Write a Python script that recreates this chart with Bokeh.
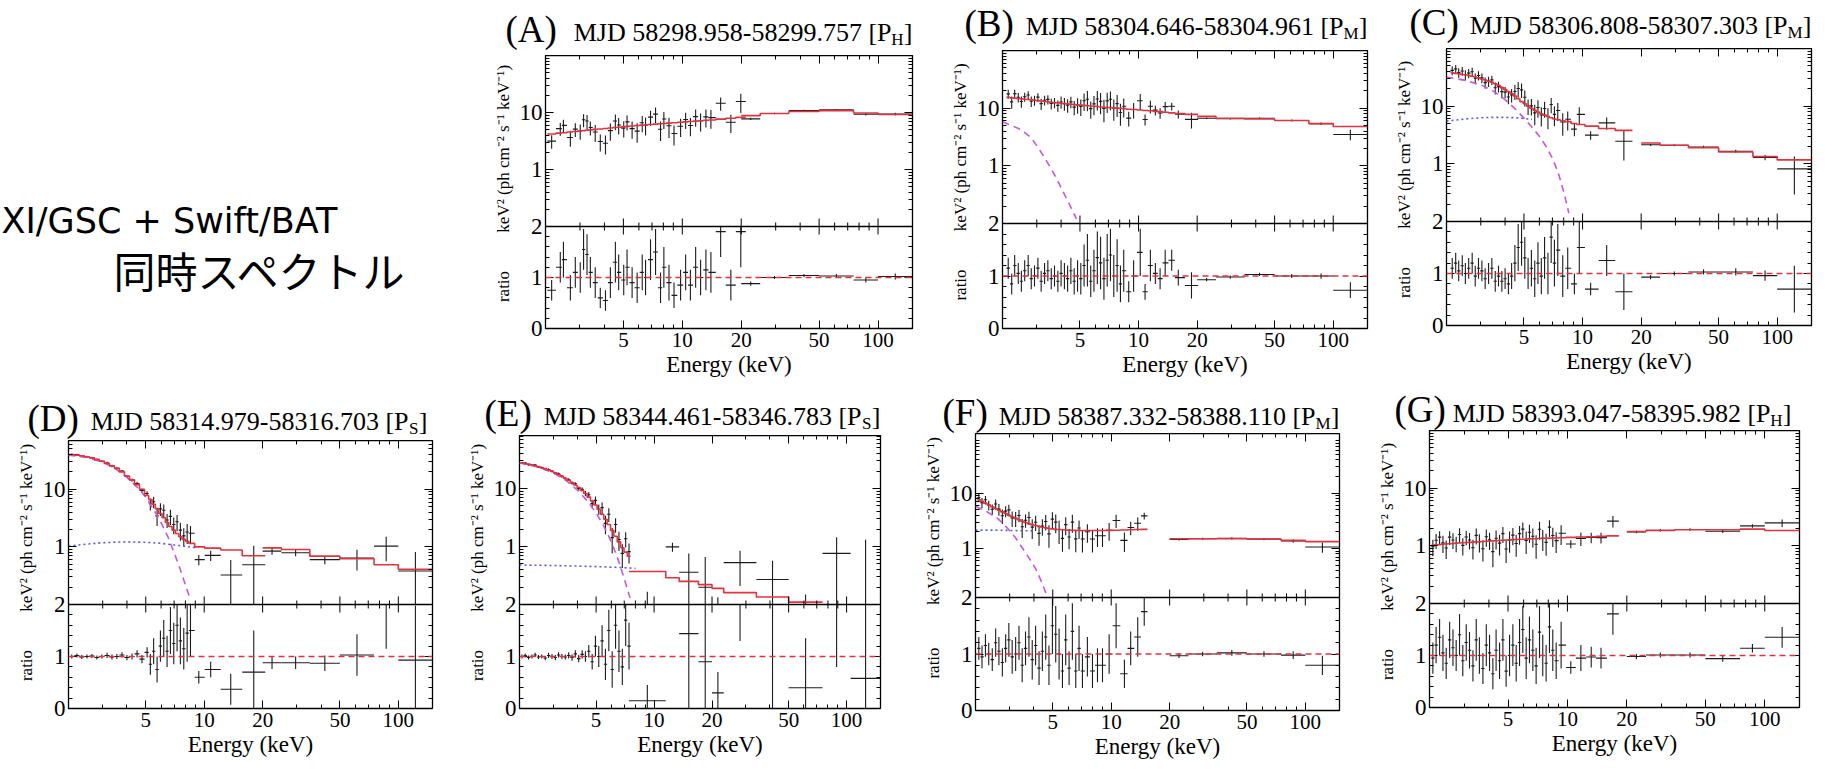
import math
from bokeh.plotting import figure
from bokeh.layouts import row, column
from bokeh.models import (Range1d, FixedTicker, BasicTickFormatter, CustomJSTickFormatter,
                          LogAxis, Label, Span, Title, LinearScale)
from bokeh.embed import file_html
from bokeh.resources import INLINE

SERIF = "Liberation Serif, Times New Roman, serif"
RED = "#e2323f"
MAG = "#c65ad6"
BLUE = "#5a5ae8"
INK = "#1c1c1c"

X_MIN, X_MAX = 2.0, 150.0
X_TICKS = [5, 10, 20, 50, 100]
X_MINOR = [2, 3, 4, 6, 7, 8, 9, 30, 40, 60, 70, 80, 90]
Y_TICKS = [1, 10]
Y_MINOR = [0.2, 0.3, 0.4, 0.5, 0.6, 0.7, 0.8, 0.9, 2, 3, 4, 5, 6, 7, 8, 9,
           20, 30, 40, 50, 60, 70, 80, 90]
R_TICKS = [0, 1, 2]
R_MINOR = [0.2, 0.4, 0.6, 0.8, 1.2, 1.4, 1.6, 1.8]

# Swift/BAT energy bins (keV)
BAT_LO = [20, 25, 35, 50, 75, 100]
BAT_HI = [25, 35, 50, 75, 100, 150]

# ---------------- (A) ----------------
A_e = [2.15, 2.38, 2.47, 2.68, 2.84, 3.01, 3.13, 3.26, 3.39, 3.59, 3.81, 4.05, 4.29, 4.55, 4.73,
       5.02, 5.22, 5.54, 5.88, 6.24, 6.49, 6.88, 7.30, 7.74, 8.05, 8.55, 9.07, 9.80, 10.4, 11.0,
       11.7, 12.4, 13.2, 14.0, 15.7, 17.7, 19.9]
A_m = [4.2, 4.35, 4.4, 4.55, 4.65, 4.75, 4.8, 4.9, 4.95, 5.05, 5.15, 5.25, 5.35, 5.45, 5.5,
       5.6, 5.7, 5.8, 5.9, 6.0, 6.05, 6.15, 6.25, 6.35, 6.4, 6.5, 6.6, 6.75, 6.85, 6.95,
       7.05, 7.15, 7.3, 7.4, 7.65, 7.95, 8.2]
A_r = [0.75, 1.2, 1.35, 0.8, 1.1, 1.0, 1.55, 1.45, 1.1, 0.9, 0.6, 0.55, 0.9, 1.3, 1.1,
       0.95, 1.2, 0.9, 0.8, 1.1, 1.0, 1.35, 1.5, 0.8, 1.2, 0.9, 0.65, 0.85, 1.1, 0.85,
       1.2, 1.0, 1.15, 1.1, 1.9, 0.85, 1.9]
A_dr = [0.2, 0.3, 0.35, 0.25, 0.3, 0.3, 0.4, 0.4, 0.3, 0.3, 0.2, 0.2, 0.3, 0.4, 0.35,
        0.3, 0.35, 0.3, 0.3, 0.35, 0.35, 0.4, 0.45, 0.3, 0.4, 0.35, 0.25, 0.3, 0.35, 0.3,
        0.4, 0.35, 0.4, 0.4, 0.5, 0.3, 0.7]
A_bm = [8.8, 9.6, 10.4, 10.8, 9.8, 9.2]
A_br = [0.88, 1.0, 1.04, 1.03, 0.95, 1.02]
A_bdr = [0.04, 0.03, 0.03, 0.04, 0.05, 0.06]

# ---------------- (B) ----------------
B_e = [2.14, 2.23, 2.31, 2.41, 2.50, 2.60, 2.71, 2.81, 2.92, 3.04, 3.16, 3.29, 3.42, 3.56, 3.70,
       3.85, 4.00, 4.16, 4.32, 4.49, 4.67, 4.86, 5.05, 5.25, 5.46, 5.68, 5.90, 6.14, 6.38, 6.64,
       6.90, 7.17, 7.46, 7.76, 8.07, 8.39, 8.90, 9.43, 10.2, 10.8, 11.5, 12.2, 12.9, 13.7, 14.8,
       16.0, 18.7]
B_m = [15.4, 15.1, 14.9, 14.7, 14.5, 14.3, 14.1, 13.9, 13.7, 13.5, 13.3, 13.1, 12.9, 12.7, 12.5,
       12.4, 12.2, 12.0, 11.9, 11.7, 11.6, 11.4, 11.3, 11.2, 11.0, 10.9, 10.8, 10.7, 10.5, 10.4,
       10.3, 10.2, 10.1, 10.0, 9.9, 9.8, 9.6, 9.5, 9.3, 9.1, 9.0, 8.8, 8.7, 8.5, 8.3,
       8.1, 7.8]
B_r = [1.15, 0.85, 1.2, 1.05, 0.9, 1.1, 1.2, 0.95, 1.0, 1.15, 0.9, 1.05, 1.1, 0.95, 1.0,
       0.9, 1.05, 1.0, 0.95, 1.1, 0.9, 1.0, 0.95, 1.2, 1.3, 0.9, 1.1, 1.35, 1.25, 0.95,
       1.3, 1.4, 1.0, 1.2, 0.85, 1.1, 0.7, 1.0, 1.45, 0.7, 1.2, 1.05, 0.95, 1.25, 1.3,
       0.97, 0.82]
B_dr = [0.2, 0.2, 0.2, 0.2, 0.2, 0.2, 0.2, 0.2, 0.2, 0.2, 0.2, 0.2, 0.2, 0.2, 0.2,
        0.2, 0.25, 0.25, 0.25, 0.25, 0.25, 0.3, 0.3, 0.4, 0.5, 0.3, 0.4, 0.5, 0.5, 0.4,
        0.5, 0.5, 0.4, 0.5, 0.35, 0.4, 0.2, 0.3, 0.45, 0.15, 0.3, 0.2, 0.2, 0.25, 0.2,
        0.15, 0.25]
B_bm = [7.2, 6.7, 6.5, 6.1, 5.4, 4.8]
B_br = [0.93, 0.98, 1.03, 1.0, 1.0, 0.73]
B_bdr = [0.03, 0.03, 0.03, 0.04, 0.05, 0.15]
B_dbb_e = [2.0, 2.2, 2.5, 2.8, 3.1, 3.4, 3.7, 4.0, 4.4, 4.8, 5.0]
B_dbb_f = [5.8, 5.1, 4.2, 3.1, 1.9, 1.15, 0.7, 0.42, 0.22, 0.12, 0.09]

# ---------------- (C) ----------------
C_e = [2.14, 2.23, 2.31, 2.41, 2.50, 2.60, 2.71, 2.81, 2.92, 3.04, 3.16, 3.29, 3.42, 3.56, 3.70,
       3.85, 4.00, 4.16, 4.32, 4.49, 4.67, 4.86, 5.05, 5.25, 5.46, 5.68, 5.90, 6.14, 6.38, 6.64,
       6.90, 7.17, 7.46, 7.91, 8.39, 9.08, 9.62, 11.0, 13.3, 16.3]
C_m = [38, 37, 36.5, 35.5, 35, 34, 33, 32, 31, 29.5, 28.5, 27, 26, 24.5, 23,
       21, 19.5, 18, 16.5, 15, 13.5, 12, 11, 10, 9.2, 8.5, 7.9, 7.4, 7.0, 6.6,
       6.3, 6.0, 5.8, 5.6, 5.4, 5.0, 4.8, 4.5, 4.1, 3.8]
C_r = [1.1, 1.2, 1.05, 1.15, 1.0, 1.1, 1.2, 0.95, 1.1, 1.05, 0.9, 1.0, 1.1, 0.85, 0.95,
       0.85, 0.9, 0.8, 0.95, 1.2, 1.5, 1.6, 1.3, 1.0, 1.1, 0.9, 1.2, 0.95, 1.3, 1.0,
       1.7, 1.2, 1.45, 0.95, 1.1, 0.8, 1.5, 0.7, 1.25, 0.65]
C_dr = [0.2, 0.2, 0.2, 0.2, 0.2, 0.2, 0.2, 0.2, 0.2, 0.2, 0.2, 0.2, 0.2, 0.2, 0.2,
        0.2, 0.2, 0.2, 0.25, 0.35, 0.45, 0.45, 0.4, 0.3, 0.35, 0.35, 0.4, 0.35, 0.4, 0.4,
        0.5, 0.45, 0.5, 0.4, 0.4, 0.2, 0.5, 0.12, 0.3, 0.35]
C_bm = [2.3, 2.1, 1.9, 1.6, 1.34, 1.17]
C_br = [0.93, 1.0, 1.03, 1.03, 0.96, 0.7]
C_bdr = [0.04, 0.04, 0.05, 0.07, 0.1, 0.45]
C_dbb_e = [2.0, 2.5, 3.0, 3.5, 4.0, 4.5, 5.0, 5.5, 6.0, 6.5, 7.0, 7.5, 8.0, 8.5, 8.8]
C_dbb_f = [32, 28, 23.5, 18, 13, 9, 6.2, 4.3, 3.0, 2.0, 1.25, 0.7, 0.33, 0.14, 0.09]
C_pl_e = [2.0, 2.5, 3.0, 3.5, 4.0, 4.5, 5.0, 5.5]
C_pl_f = [5.5, 6.0, 6.3, 6.4, 6.4, 6.3, 6.1, 5.9]

# ---------------- (D) ----------------
D_e = [2.08, 2.21, 2.34, 2.49, 2.64, 2.80, 2.97, 3.16, 3.35, 3.55, 3.77, 4.00, 4.25, 4.51, 4.78,
       5.08, 5.28, 5.49, 5.72, 5.95, 6.19, 6.44, 6.70, 6.97, 7.25, 7.54, 7.85, 8.17, 8.50,
       9.38, 10.8, 13.7, 18.0]
D_m = [40, 39, 38, 36.5, 35, 33, 30.5, 28, 25.5, 23, 20, 17, 14.5, 12, 10,
       7.8, 6.6, 5.5, 4.6, 3.8, 3.2, 2.65, 2.25, 1.95, 1.7, 1.5, 1.35, 1.25, 1.15,
       1.0, 0.95, 0.88, 0.7]
D_r = [1.0, 1.02, 0.99, 1.0, 1.01, 0.98, 1.0, 1.02, 0.99, 1.0, 1.03, 0.98, 1.0, 1.05, 0.95,
       1.08, 0.85, 1.1, 0.75, 1.2, 1.35, 1.1, 1.5, 1.25, 1.6, 1.3, 1.15, 1.45, 1.5,
       0.6, 0.75, 0.37, 0.7]
D_dr = [0.04, 0.04, 0.04, 0.04, 0.04, 0.04, 0.04, 0.05, 0.05, 0.05, 0.05, 0.05, 0.06, 0.07, 0.08,
        0.1, 0.2, 0.25, 0.25, 0.3, 0.35, 0.3, 0.45, 0.4, 0.5, 0.45, 0.4, 0.55, 0.5,
        0.12, 0.15, 0.3, 0.8]
D_bm = [0.96, 0.9, 0.69, 0.62, 0.49, 0.41]
D_br = [0.88, 0.88, 0.87, 1.03, 2.1, 0.93]
D_bdr = [0.12, 0.12, 0.15, 0.4, 0.95, 1.05]
D_dbb_e = [2.0, 2.5, 3.0, 3.5, 4.0, 4.5, 5.0, 5.5, 6.0, 6.5, 7.0, 7.5, 8.0, 8.5, 9.0]
D_dbb_f = [39, 35.5, 29.5, 22.5, 16, 11, 7.3, 4.4, 2.6, 1.5, 0.8, 0.42, 0.22, 0.12, 0.07]
D_pl_e = [2.0, 2.5, 3.0, 3.5, 4.0, 5.0, 6.0, 7.0, 8.0, 9.0]
D_pl_f = [1.03, 1.12, 1.18, 1.21, 1.22, 1.2, 1.15, 1.08, 1.02, 0.97]

# ---------------- (E) ----------------
E_e = [2.06, 2.14, 2.23, 2.32, 2.41, 2.51, 2.61, 2.72, 2.83, 2.95, 3.07, 3.19, 3.32, 3.46, 3.60,
       3.75, 3.90, 4.06, 4.23, 4.40, 4.58, 4.77, 4.96, 5.16, 5.37, 5.59, 5.82, 6.06, 6.31, 6.57,
       6.84, 7.12, 7.41]
E_m = [27.5, 27.0, 26.3, 25.5, 24.7, 23.8, 22.9, 22.0, 20.9, 19.8, 18.6, 17.4, 16.2, 15.0, 13.9,
       12.7, 11.5, 10.4, 9.3, 8.2, 7.1, 6.1, 5.2, 4.4, 3.6, 2.95, 2.4, 1.9, 1.5, 1.2,
       0.95, 0.8, 0.68]
E_r = [1.0, 1.02, 0.98, 1.0, 1.03, 0.99, 1.0, 0.97, 1.02, 1.0, 0.98, 1.03, 1.0, 0.99, 1.02,
       0.98, 1.05, 0.96, 1.04, 1.0, 1.1, 0.9, 1.2, 1.0, 1.3, 0.85, 1.5, 0.75, 1.6, 1.1,
       0.8, 1.7, 1.2]
E_dr = [0.04, 0.04, 0.04, 0.04, 0.04, 0.04, 0.04, 0.04, 0.05, 0.05, 0.05, 0.05, 0.05, 0.05, 0.06,
        0.06, 0.07, 0.07, 0.08, 0.1, 0.12, 0.15, 0.2, 0.2, 0.3, 0.3, 0.4, 0.35, 0.45, 0.4,
        0.35, 0.5, 0.45]
E_blo = [7.4, 11.5, 13.5, 17, 20, 23, 34, 50, 75, 105]
E_bhi = [11.5, 13.5, 17, 20, 23, 34, 50, 75, 105, 150]
E_bm = [0.37, 0.29, 0.25, 0.22, 0.19, 0.16, 0.135, 0.11, 0.095, 0.08]
E_br = [0.15, 3.4, 1.44, 0.9, 0.3, 3.3, 2.0, 0.4, 8.0, 0.58]
E_bdr = [0.3, 0.6, 1.6, 2.1, 0.4, 2.0, 2.2, 0.95, 7.2, 15.7]
E_dbb_e = [2.0, 2.5, 3.0, 3.5, 4.0, 4.5, 5.0, 5.5, 6.0, 6.5, 7.0, 7.5, 7.8]
E_dbb_f = [27.5, 23.5, 18.6, 13.7, 9.4, 6.1, 3.8, 2.2, 1.2, 0.6, 0.28, 0.13, 0.09]
E_pl_e = [2.0, 3.0, 4.0, 5.0, 6.0, 7.0, 8.0]
E_pl_f = [0.48, 0.47, 0.46, 0.45, 0.44, 0.43, 0.42]

# ---------------- (F) ----------------
F_e = [2.08, 2.16, 2.25, 2.34, 2.44, 2.54, 2.64, 2.75, 2.86, 2.97, 3.09, 3.22, 3.35, 3.48, 3.62,
       3.77, 3.92, 4.08, 4.25, 4.42, 4.60, 4.78, 4.98, 5.18, 5.39, 5.61, 5.83, 6.07, 6.31, 6.57,
       6.83, 7.11, 7.54, 8.01, 8.50, 9.02, 9.76, 10.6, 11.7, 12.6, 13.7, 14.8]
F_m = [7.6, 7.1, 6.6, 6.1, 5.7, 5.3, 4.9, 4.6, 4.3, 4.0, 3.75, 3.5, 3.3, 3.1, 2.95,
       2.8, 2.7, 2.6, 2.5, 2.42, 2.36, 2.3, 2.26, 2.22, 2.2, 2.18, 2.16, 2.15, 2.14, 2.13,
       2.13, 2.12, 2.12, 2.12, 2.12, 2.12, 2.13, 2.14, 2.16, 2.18, 2.2, 2.22]
F_r = [1.1, 0.95, 1.15, 1.0, 0.9, 1.2, 1.05, 0.85, 1.1, 1.25, 0.95, 1.0, 1.2, 0.8, 1.1,
       1.3, 0.9, 1.15, 0.75, 1.05, 1.3, 0.8, 1.5, 1.35, 1.0, 0.7, 1.25, 0.75, 1.4, 0.7,
       1.1, 0.7, 0.95, 0.7, 0.8, 0.8, 1.0, 1.5, 0.65, 1.1, 1.3, 1.75]
F_dr = [0.2, 0.2, 0.2, 0.2, 0.2, 0.25, 0.25, 0.25, 0.25, 0.3, 0.3, 0.3, 0.3, 0.3, 0.3,
        0.35, 0.35, 0.35, 0.3, 0.35, 0.4, 0.35, 0.5, 0.5, 0.45, 0.3, 0.45, 0.3, 0.5, 0.3,
        0.4, 0.3, 0.35, 0.3, 0.3, 0.3, 0.35, 0.4, 0.25, 0.3, 0.35, 0.25]
F_bm = [1.5, 1.5, 1.5, 1.48, 1.4, 1.33]
F_br = [0.97, 1.0, 1.02, 1.0, 0.98, 0.8]
F_bdr = [0.04, 0.04, 0.05, 0.05, 0.07, 0.17]
F_dbb_e = [2.0, 2.3, 2.6, 2.9, 3.2, 3.5, 3.8, 4.1, 4.4, 4.7, 4.9]
F_dbb_f = [5.8, 4.6, 3.5, 2.4, 1.6, 1.0, 0.65, 0.42, 0.24, 0.13, 0.1]
F_pl_e = [2.0, 2.5, 3.0, 3.5, 4.0]
F_pl_f = [2.15, 2.15, 2.12, 2.1, 2.08]

# ---------------- (G) ----------------
G_e = [2.08, 2.16, 2.25, 2.34, 2.43, 2.53, 2.63, 2.73, 2.84, 2.95, 3.07, 3.19, 3.32, 3.45, 3.58,
       3.73, 3.88, 4.03, 4.19, 4.35, 4.53, 4.71, 4.89, 5.09, 5.29, 5.50, 5.72, 5.94, 6.18, 6.42,
       6.68, 6.94, 7.22, 7.50, 7.80, 8.11, 8.43, 8.77, 9.29, 10.4, 11.7, 13.2, 14.8, 17.0]
G_m = [1.02, 1.04, 1.05, 1.07, 1.08, 1.09, 1.1, 1.11, 1.12, 1.13, 1.14, 1.15, 1.16, 1.17, 1.18,
       1.19, 1.2, 1.21, 1.22, 1.23, 1.24, 1.25, 1.26, 1.27, 1.28, 1.29, 1.3, 1.3, 1.31, 1.32,
       1.33, 1.33, 1.34, 1.35, 1.35, 1.36, 1.37, 1.37, 1.38, 1.4, 1.42, 1.44, 1.46, 1.49]
G_r = [0.95, 1.2, 1.35, 1.05, 0.85, 1.3, 1.15, 1.0, 1.4, 0.9, 1.25, 1.1, 0.8, 1.3, 1.0,
       0.75, 1.2, 1.05, 0.65, 1.1, 0.9, 1.3, 0.7, 1.0, 1.2, 0.85, 1.25, 1.5, 0.95, 1.3,
       1.1, 0.8, 1.45, 1.0, 0.85, 1.55, 1.1, 0.9, 1.2, 0.77, 0.95, 0.97, 0.95, 1.8]
G_dr = [0.3, 0.35, 0.35, 0.35, 0.3, 0.35, 0.35, 0.3, 0.4, 0.3, 0.35, 0.35, 0.3, 0.4, 0.35,
        0.3, 0.4, 0.35, 0.3, 0.4, 0.35, 0.4, 0.3, 0.4, 0.4, 0.35, 0.45, 0.45, 0.4, 0.45,
        0.4, 0.35, 0.5, 0.4, 0.35, 0.5, 0.4, 0.35, 0.45, 0.12, 0.25, 0.2, 0.2, 0.4]
G_bm = [1.77, 1.84, 1.9, 1.9, 1.95, 1.85]
G_br = [0.98, 1.01, 1.01, 0.94, 1.14, 1.35]
G_bdr = [0.05, 0.05, 0.05, 0.06, 0.08, 0.2]

TITLES = {
    "A": ("MJD 58298.958-58299.757 [P", "H"),
    "B": ("MJD 58304.646-58304.961 [P", "M"),
    "C": ("MJD 58306.808-58307.303 [P", "M"),
    "D": ("MJD 58314.979-58316.703 [P", "S"),
    "E": ("MJD 58344.461-58346.783 [P", "S"),
    "F": ("MJD 58387.332-58388.110 [P", "M"),
    "G": ("MJD 58393.047-58395.982 [P", "H"),
}
SUBW = {"H": 12, "M": 15, "S": 10}
Y_LABEL = "keV\u00b2 (ph cm\u207b\u00b2 s\u207b\u00b9 keV\u207b\u00b9)"
R_LABEL = "ratio"

ROW1_H = 388
PANELS = [
    dict(letter="A", e=A_e, m=A_m, r=A_r, dr=A_dr, blo=BAT_LO, bhi=BAT_HI, bm=A_bm, br=A_br, bdr=A_bdr,
         dbb=None, pl=None, ylim=(0.1, 100),
         L=75, FW=367, R=15, tb=55, th=171, bh=102, bb=60, gap=14, po=40, rt=0),
    dict(letter="B", e=B_e, m=B_m, r=B_r, dr=B_dr, blo=BAT_LO, bhi=BAT_HI, bm=B_bm, br=B_br, bdr=B_bdr,
         dbb=(B_dbb_e, B_dbb_f), pl=None, ylim=(0.1, 100),
         L=75, FW=365, R=4, tb=50, th=173, bh=105, bb=60, gap=15, po=38, rt=0),
    dict(letter="C", e=C_e, m=C_m, r=C_r, dr=C_dr, blo=BAT_LO, bhi=BAT_HI, bm=C_bm, br=C_br, bdr=C_bdr,
         dbb=(C_dbb_e, C_dbb_f), pl=(C_pl_e, C_pl_f), ylim=(0.1, 100),
         L=75, FW=365, R=20, tb=48, th=173, bh=104, bb=63, gap=14, po=37, rt=0),
    dict(letter="D", e=D_e, m=D_m, r=D_r, dr=D_dr, blo=BAT_LO, bhi=BAT_HI, bm=D_bm, br=D_br, bdr=D_bdr,
         dbb=(D_dbb_e, D_dbb_f), pl=(D_pl_e, D_pl_f), ylim=(0.1, 70),
         L=68, FW=364, R=19, tb=52, th=164, bh=104, bb=61, gap=10, po=41, rt=5),
    dict(letter="E", e=E_e, m=E_m, r=E_r, dr=E_dr, blo=E_blo, bhi=E_bhi, bm=E_bm, br=E_br, bdr=E_bdr,
         dbb=(E_dbb_e, E_dbb_f), pl=(E_pl_e, E_pl_f), ylim=(0.1, 82),
         L=68, FW=361, R=27, tb=47, th=169, bh=104, bb=61, gap=10, po=35, rt=0),
    dict(letter="F", e=F_e, m=F_m, r=F_r, dr=F_dr, blo=BAT_LO, bhi=BAT_HI, bm=F_bm, br=F_br, bdr=F_bdr,
         dbb=(F_dbb_e, F_dbb_f), pl=(F_pl_e, F_pl_f), ylim=(0.13, 120),
         L=68, FW=364, R=22, tb=45, th=164, bh=113, bb=59, gap=8.5, po=33, rt=0),
    dict(letter="G", e=G_e, m=G_m, r=G_r, dr=G_dr, blo=BAT_LO, bhi=BAT_HI, bm=G_bm, br=G_br, bdr=G_bdr,
         dbb=None, pl=None, ylim=(0.1, 100),
         L=68, FW=370, R=32, tb=42, th=173, bh=104, bb=62, gap=8.5, po=35, rt=8),
]

NAN = float("nan")


def style_axis(ax, labels=False, tick_size="23px", tick_standoff=3):
    ax.axis_line_color = None
    ax.major_tick_in = 8
    ax.major_tick_out = 0
    ax.minor_tick_in = 4
    ax.minor_tick_out = 0
    ax.major_tick_line_color = "black"
    ax.minor_tick_line_color = "black"
    if labels:
        ax.major_label_text_font = SERIF
        ax.major_label_text_font_size = tick_size
        ax.major_label_text_color = "black"
        ax.major_label_standoff = tick_standoff
    else:
        ax.major_label_text_font_size = "0px"
        ax.major_label_text_color = None
        ax.major_label_text_alpha = 0
        ax.major_label_standoff = 0


def step_xy(lo, hi, vals, floor):
    xs, ys = [], []
    for a, b, v in zip(lo, hi, vals):
        xs += [a, b]
        ys += [v, v] if v >= floor else [NAN, NAN]
    return xs, ys


def text_canvas(w, h):
    f = figure(width=w, height=h, x_range=Range1d(0, w), y_range=Range1d(h, 0), title=None,
               output_backend="svg", toolbar_location=None, min_border=0, frame_align=False,
               x_axis_location=None, y_axis_location=None, outline_line_color=None)
    f.grid.visible = False
    return f


def build(P):
    L, FW, R = P["L"], P["FW"], P["R"]
    W = L + FW + R
    th, bh, bb = P["th"], P["bh"], P["bb"]
    ylo, yhi = P["ylim"]
    ppd = th / math.log10(yhi / ylo)            # pixels per decade in the spectrum part
    yb = ylo / 10 ** (bh / ppd)                 # log-range value at the bottom of the ratio part
    rtop = 2.0 * (th + bh) / bh                 # ratio-range value at the top of the frame
    kk = 2.0 / math.log10(ylo / yb)

    def r2y(v):
        return yb * 10 ** (v / kk)

    p = figure(width=W, height=th + bh + bb, x_axis_type="log", y_axis_type="log",
               x_range=Range1d(X_MIN, X_MAX), y_range=Range1d(yb, yhi),
               extra_y_ranges={"ratio": Range1d(0, rtop)},
               extra_y_scales={"ratio": LinearScale()},
               output_backend="svg", toolbar_location=None, title=None, frame_align=False,
               x_axis_location=None, y_axis_location=None,
               min_border_left=L, min_border_right=R, min_border_top=0, min_border_bottom=bb,
               outline_line_color="black", outline_line_width=1.3,
               background_fill_color="white", border_fill_color="white")
    p.grid.visible = False

    y_major = [v for v in Y_TICKS if ylo < v < yhi] + [r2y(v) for v in R_TICKS]
    y_minor = [v for v in Y_MINOR if ylo < v < yhi] + [r2y(v) for v in R_MINOR]
    fmt = CustomJSTickFormatter(args=dict(lo=ylo, yb=yb, k=kk), code="""
        if (tick > lo * 1.001) { return tick >= 1 ? tick.toFixed(0) : String(tick); }
        return String(Math.round(k * Math.log10(tick / yb)));
    """)
    left = LogAxis(ticker=FixedTicker(ticks=y_major, minor_ticks=y_minor), formatter=fmt)
    style_axis(left, labels=True)
    p.add_layout(left, "left")
    right = LogAxis(ticker=FixedTicker(ticks=y_major, minor_ticks=y_minor))
    style_axis(right)
    p.add_layout(right, "right")
    above = LogAxis(ticker=FixedTicker(ticks=X_TICKS, minor_ticks=X_MINOR))
    style_axis(above)
    p.add_layout(above, "above")
    below = LogAxis(ticker=FixedTicker(ticks=X_TICKS, minor_ticks=X_MINOR),
                    formatter=BasicTickFormatter())
    style_axis(below, labels=True, tick_size="21px", tick_standoff=4)
    below.axis_label = "Energy (keV)"
    below.axis_label_text_font = SERIF
    below.axis_label_text_font_size = "23px"
    below.axis_label_text_font_style = "normal"
    below.axis_label_text_color = "black"
    below.axis_label_standoff = 2
    p.add_layout(below, "below")

    # vertical axis title: "ratio" under the ratio part, the flux unit along the spectrum part
    fs = 17
    rl = 1.83 * fs
    off = bh / 2 - 9 - rl / 2
    gap = bh / 2 + 2 - rl / 2
    nsp = max(1, int(round(gap / (0.25 * fs))))
    p.add_layout(Title(text=R_LABEL + "\u00a0" * nsp + Y_LABEL, align="left", offset=off,
                       text_font=SERIF, text_font_size=f"{fs}px", text_font_style="normal",
                       text_color="black", standoff=8), "left")

    # bins
    e = P["e"]
    mids = [math.sqrt(a * b) for a, b in zip(e[:-1], e[1:])]
    lo = [e[0] * e[0] / mids[0]] + mids
    hi = mids + [e[-1] * e[-1] / mids[-1]]
    bc = [math.sqrt(a * b) for a, b in zip(P["blo"], P["bhi"])]
    xs = e + bc
    xlo = lo + list(P["blo"])
    xhi = hi + list(P["bhi"])
    mm = P["m"] + P["bm"]
    rr = P["r"] + P["br"]
    dd = P["dr"] + P["bdr"]
    ff = [a * b for a, b in zip(rr, mm)]
    df = [a * b for a, b in zip(dd, mm)]

    # spectrum part (kept above the divider)
    vx, v0, v1 = [], [], []
    for x, f, d in zip(xs, ff, df):
        a, b = max(f - d, ylo), min(f + d, yhi)
        if a < b:
            vx.append(x); v0.append(a); v1.append(b)
    hx0, hx1, hy = [], [], []
    for a, b, f in zip(xlo, xhi, ff):
        if ylo <= f <= yhi:
            hx0.append(a); hx1.append(b); hy.append(f)
    p.segment(x0=vx, y0=v0, x1=vx, y1=v1, line_color=INK, line_width=1.1)
    p.segment(x0=hx0, y0=hy, x1=hx1, y1=hy, line_color=INK, line_width=1.1)
    for comp, col, dash in ((P["dbb"], MAG, "7 5"), (P["pl"], BLUE, "2 3")):
        if comp:
            cy = [v if v >= ylo else NAN for v in comp[1]]
            p.line(comp[0], cy, line_color=col, line_width=1.6, line_dash=dash)
    sx, sy = step_xy(lo, hi, P["m"], ylo)
    p.line(sx, sy, line_color=RED, line_width=1.6)
    sx2, sy2 = step_xy(P["blo"], P["bhi"], P["bm"], ylo)
    p.line(sx2, sy2, line_color=RED, line_width=1.6)

    # ratio part (kept below the divider)
    rx, r0, r1 = [], [], []
    for x, v, d in zip(xs, rr, dd):
        a, b = v - d, min(v + d, 2.0)
        if a < b:
            rx.append(x); r0.append(a); r1.append(b)
    qx0, qx1, qy = [], [], []
    for a, b, v in zip(xlo, xhi, rr):
        if 0 <= v <= 2:
            qx0.append(a); qx1.append(b); qy.append(v)
    p.add_layout(Span(location=1, dimension="width", y_range_name="ratio", line_color=RED,
                      line_width=1.4, line_dash="6 4"))
    p.segment(x0=rx, y0=r0, x1=rx, y1=r1, line_color=INK, line_width=1.1, y_range_name="ratio")
    p.segment(x0=qx0, y0=qy, x1=qx1, y1=qy, line_color=INK, line_width=1.1, y_range_name="ratio")

    # divider with ticks on both sides
    p.add_layout(Span(location=ylo, dimension="width", line_color="black", line_width=1.4))
    tx, t0, t1 = [], [], []
    for t in X_TICKS + X_MINOR:
        ln = 8 if t in X_TICKS else 4
        tx.append(t); t0.append(ylo / 10 ** (ln / ppd)); t1.append(ylo * 10 ** (ln / ppd))
    p.segment(x0=tx, y0=t0, x1=tx, y1=t1, line_color="black", line_width=1)

    # title strip above the panel (labels are positioned by their em-box middle)
    tt = P["tb"]
    tf = text_canvas(W, tt)
    base = tt - P["gap"]
    xr = L + FW - P["rt"]
    tf.add_layout(Label(x=L - P["po"], y=base - 0.3375 * 37, text="(" + P["letter"] + ")",
                        text_font=SERIF, text_font_size="37px", text_baseline="alphabetic",
                        text_align="left", text_color="black"))
    main, sub = TITLES[P["letter"]]
    tf.add_layout(Label(x=xr, y=base - 0.3375 * 26, text="]", text_font=SERIF,
                        text_font_size="26px", text_baseline="alphabetic", text_align="right",
                        text_color="black"))
    tf.add_layout(Label(x=xr - 9, y=base + 4 - 0.3375 * 17, text=sub, text_font=SERIF,
                        text_font_size="17px", text_baseline="alphabetic", text_align="right",
                        text_color="black"))
    tf.add_layout(Label(x=xr - 9 - SUBW[sub], y=base - 0.3375 * 26, text=main, text_font=SERIF,
                        text_font_size="26px", text_baseline="alphabetic", text_align="right",
                        text_color="black"))
    return column(tf, p)


# left-hand caption
cap = text_canvas(470, ROW1_H)
cap.add_layout(Label(x=1, y=220, text="XI/GSC + Swift/BAT", text_font="DejaVu Sans",
                     text_font_size="35px", text_baseline="alphabetic", text_color="black"))
cap.add_layout(Label(x=113, y=269, text="同時スペクトル", text_font="Noto Sans CJK JP",
                     text_font_size="42px", text_baseline="alphabetic", text_color="black"))

cols = [build(P) for P in PANELS]
layout = column(row(cap, cols[0], cols[1], cols[2]), row(cols[3], cols[4], cols[5], cols[6]))

open("out.html", "w").write(file_html(layout, INLINE))
